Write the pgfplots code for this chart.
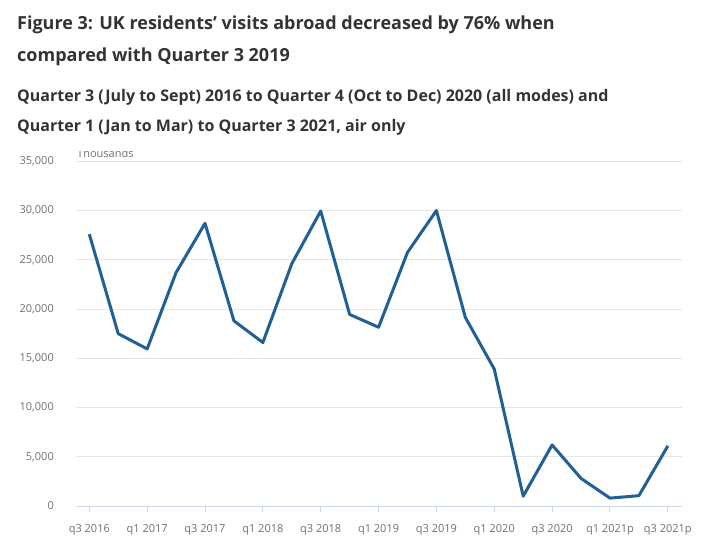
\documentclass[border=0pt]{standalone}
\usepackage{fontspec}
\setmainfont{Open Sans}
\usepackage{pgfplots}
\usepackage{pgfplotstable}
\pgfplotsset{compat=1.18}

\definecolor{linec}{HTML}{206095}
\definecolor{gridc}{HTML}{E6E6E6}
\definecolor{axisc}{HTML}{CCD6EB}
\definecolor{tickc}{HTML}{707070}
\definecolor{titlec}{HTML}{333333}

% UK residents' visits abroad, thousands
\pgfplotstableread{
idx visits
0  27600
1  17500
2  15950
3  23700
4  28700
5  18800
6  16600
7  24600
8  29950
9  19450
10 18150
11 25750
12 30000
13 19150
14 13900
15 1000
16 6200
17 2800
18 800
19 1050
20 6100
}\visits

\begin{document}
\begin{tikzpicture}
\path[use as bounding box] (0pt,0pt) rectangle (711pt,546pt);

% headings
\node[anchor=base west, inner sep=0pt, text=titlec,
      font=\fontsize{18}{21}\selectfont\bfseries] at (17pt,516pt)
  {Figure 3: UK residents’ visits abroad decreased by 76\% when};
\node[anchor=base west, inner sep=0pt, text=titlec,
      font=\fontsize{18}{21}\selectfont\bfseries] at (17pt,484pt)
  {compared with Quarter 3 2019};
\node[anchor=base west, inner sep=0pt, text=titlec,
      font=\fontsize{16}{19}\selectfont\bfseries] at (17pt,444pt)
  {Quarter 3 (July to Sept) 2016 to Quarter 4 (Oct to Dec) 2020 (all modes) and};
\node[anchor=base west, inner sep=0pt, text=titlec,
      font=\fontsize{16}{19}\selectfont\bfseries] at (17pt,414pt)
  {Quarter 1 (Jan to Mar) to Quarter 3 2021, air only};

% unit label, partly hidden under the heading area
\begin{scope}
  \clip (70pt,380pt) rectangle (200pt,394.5pt);
  \node[anchor=base west, inner sep=0pt, text=tickc,
        font=\fontsize{11}{13}\selectfont] at (77pt,388pt) {Thousands};
\end{scope}

\begin{axis}[
  at={(76pt,40pt)}, anchor=south west,
  scale only axis, width=605.7pt, height=344.7pt,
  xmin=-0.46, xmax=20.48,
  ymin=0, ymax=35000,
  axis line style={draw=none},
  ytick={0,5000,...,35000},
  ymajorgrids, grid style={gridc, line width=1pt},
  ytick style={draw=none},
  xtick={0,2,...,20},
  xticklabels={q3 2016, q1 2017, q3 2017, q1 2018, q3 2018, q1 2019,
               q3 2019, q1 2020, q3 2020, q1 2021p, q3 2021p},
  xtick pos=bottom, tick align=outside, major tick length=6pt,
  xtick style={draw=axisc, line width=1pt},
  scaled y ticks=false,
  /pgf/number format/.cd, 1000 sep={,}, assume math mode=true,
  /pgfplots/.cd,
  tick label style={font=\fontsize{11}{13}\selectfont, text=tickc, inner sep=0pt},
  yticklabel style={anchor=east, xshift=-16pt},
  xticklabel style={anchor=base, yshift=-20pt},
]
\draw[axisc, line width=1pt] (rel axis cs:0,0) -- (rel axis cs:1,0);
\addplot[linec, line width=3pt, line join=round, mark=none]
  table[x=idx, y=visits] {\visits};
\end{axis}
\end{tikzpicture}
\end{document}
